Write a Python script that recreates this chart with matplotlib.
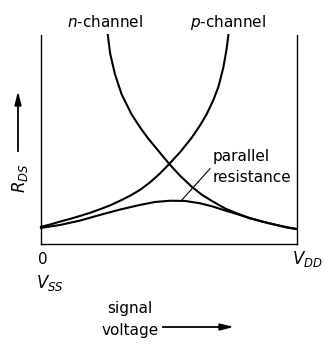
import matplotlib.pyplot as plt

# values, x: 0 = V_SS .. 1 = V_DD, y: R_DS (0 .. 1 = top of box)
n_x = [0.261, 0.270, 0.289, 0.315, 0.354, 0.387, 0.419, 0.439, 0.469, 0.501, 0.543,
       0.589, 0.629, 0.673, 0.719, 0.764, 0.816, 0.867, 0.921, 0.961, 0.999]
n_y = [1.000, 0.912, 0.812, 0.716, 0.620, 0.558, 0.504, 0.475, 0.430, 0.383, 0.327,
       0.274, 0.235, 0.202, 0.170, 0.147, 0.124, 0.107, 0.091, 0.080, 0.072]

p_x = [0.732, 0.725, 0.712, 0.693, 0.673, 0.647, 0.621, 0.589, 0.543, 0.501, 0.465,
       0.426, 0.387, 0.348, 0.309, 0.270, 0.230, 0.191, 0.152, 0.113, 0.074, 0.035, 0.000]
p_y = [1.000, 0.933, 0.843, 0.752, 0.688, 0.621, 0.567, 0.509, 0.439, 0.383, 0.338,
       0.295, 0.259, 0.231, 0.207, 0.185, 0.166, 0.149, 0.134, 0.120, 0.107, 0.093, 0.082]

par_x = [0.000, 0.074, 0.152, 0.230, 0.309, 0.387, 0.445, 0.504, 0.5625, 0.621, 0.672,
         0.725, 0.764, 0.816, 0.867, 0.921, 0.961, 1.000]
par_y = [0.077, 0.091, 0.112, 0.139, 0.165, 0.187, 0.201, 0.207, 0.206, 0.195, 0.179,
         0.158, 0.144, 0.123, 0.106, 0.090, 0.079, 0.071]

W, H = 325, 344
fig = plt.figure(figsize=(W / 100, H / 100), dpi=100)
ax = fig.add_axes([41 / W, 1 - 244 / H, 256 / W, 209 / H])

ax.plot(n_x, n_y, color='black', lw=1.5, clip_on=False, solid_joinstyle='round')
ax.plot(p_x, p_y, color='black', lw=1.5, clip_on=False, solid_joinstyle='round')
ax.plot(par_x, par_y, color='black', lw=1.5, clip_on=False, solid_joinstyle='round')

ax.set_xlim(0, 1)
ax.set_ylim(0, 1)
ax.set_xticks([])
ax.set_yticks([])
ax.spines['top'].set_visible(False)
for s in ['left', 'right', 'bottom']:
    ax.spines[s].set_linewidth(1.0)

# leader line from the parallel curve to its label
ax.plot([0.55, 0.66], [0.21, 0.36], color='black', lw=0.8)


def fx(px):
    return px / W


def fy(py):
    return 1 - py / H


fs = 11
fig.text(fx(105), fy(22), r'$n$-channel', ha='center', va='center', fontsize=fs)
fig.text(fx(228), fy(22), r'$p$-channel', ha='center', va='center', fontsize=fs)
fig.text(fx(213), fy(157), 'parallel', ha='left', va='center', fontsize=fs)
fig.text(fx(213), fy(178), 'resistance', ha='left', va='center', fontsize=fs)

fig.text(fx(20), fy(178), r'$R_{DS}$', ha='center', va='center', fontsize=12, rotation=90)
fig.add_artist(plt.Line2D([fx(18), fx(18)], [fy(151), fy(103)], color='black', lw=1.3))
fig.patches.append(plt.Polygon([[fx(15), fy(106)], [fx(21), fy(106)], [fx(18), fy(94)]],
                               closed=True, color='black', transform=fig.transFigure))

fig.text(fx(43), fy(260), '0', ha='center', va='center', fontsize=fs)
fig.text(fx(50), fy(283), r'$V_{SS}$', ha='center', va='center', fontsize=12)
fig.text(fx(292), fy(259), r'$V_{DD}$', ha='left', va='center', fontsize=12)

fig.text(fx(130), fy(309), 'signal', ha='center', va='center', fontsize=fs)
fig.text(fx(130), fy(331), 'voltage', ha='center', va='center', fontsize=fs)
fig.add_artist(plt.Line2D([fx(163), fx(222)], [fy(327), fy(327)], color='black', lw=1.3))
fig.patches.append(plt.Polygon([[fx(219), fy(324)], [fx(219), fy(330)], [fx(231), fy(327)]],
                               closed=True, color='black', transform=fig.transFigure))

fig.savefig('out.png', dpi=100)
